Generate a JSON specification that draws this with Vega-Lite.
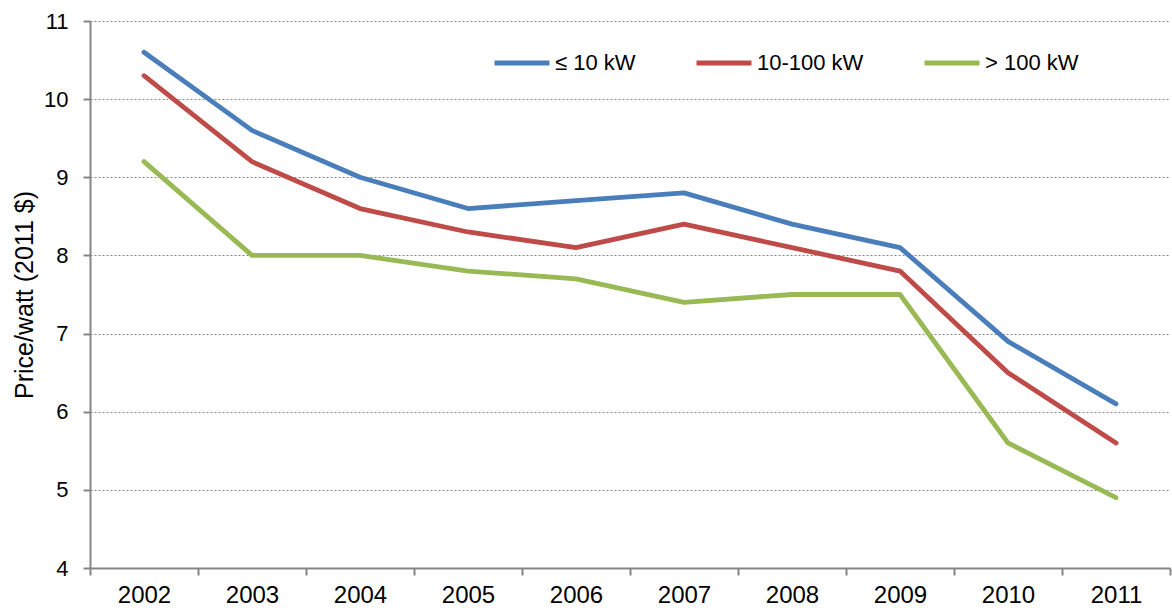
{
  "$schema": "https://vega.github.io/schema/vega-lite/v6.json",
  "autosize": {"type": "none"},
  "padding": {"left": 90, "top": 21, "right": 2, "bottom": 40},
  "width": 1080,
  "height": 547,
  "background": "white",
  "config": {
    "view": {"stroke": null},
    "font": "Liberation Sans"
  },
  "data": {
    "values": [
      {"year": "2002", "series": "≤ 10 kW", "price": 10.6},
      {"year": "2003", "series": "≤ 10 kW", "price": 9.6},
      {"year": "2004", "series": "≤ 10 kW", "price": 9.0},
      {"year": "2005", "series": "≤ 10 kW", "price": 8.6},
      {"year": "2006", "series": "≤ 10 kW", "price": 8.7},
      {"year": "2007", "series": "≤ 10 kW", "price": 8.8},
      {"year": "2008", "series": "≤ 10 kW", "price": 8.4},
      {"year": "2009", "series": "≤ 10 kW", "price": 8.1},
      {"year": "2010", "series": "≤ 10 kW", "price": 6.9},
      {"year": "2011", "series": "≤ 10 kW", "price": 6.1},
      {"year": "2002", "series": "10-100 kW", "price": 10.3},
      {"year": "2003", "series": "10-100 kW", "price": 9.2},
      {"year": "2004", "series": "10-100 kW", "price": 8.6},
      {"year": "2005", "series": "10-100 kW", "price": 8.3},
      {"year": "2006", "series": "10-100 kW", "price": 8.1},
      {"year": "2007", "series": "10-100 kW", "price": 8.4},
      {"year": "2008", "series": "10-100 kW", "price": 8.1},
      {"year": "2009", "series": "10-100 kW", "price": 7.8},
      {"year": "2010", "series": "10-100 kW", "price": 6.5},
      {"year": "2011", "series": "10-100 kW", "price": 5.6},
      {"year": "2002", "series": "> 100 kW", "price": 9.2},
      {"year": "2003", "series": "> 100 kW", "price": 8.0},
      {"year": "2004", "series": "> 100 kW", "price": 8.0},
      {"year": "2005", "series": "> 100 kW", "price": 7.8},
      {"year": "2006", "series": "> 100 kW", "price": 7.7},
      {"year": "2007", "series": "> 100 kW", "price": 7.4},
      {"year": "2008", "series": "> 100 kW", "price": 7.5},
      {"year": "2009", "series": "> 100 kW", "price": 7.5},
      {"year": "2010", "series": "> 100 kW", "price": 5.6},
      {"year": "2011", "series": "> 100 kW", "price": 4.9}
    ]
  },
  "mark": {"type": "line", "strokeWidth": 4.8, "strokeCap": "round", "strokeJoin": "round"},
  "encoding": {
    "x": {
      "field": "year",
      "type": "ordinal",
      "bandPosition": 0.5,
      "scale": {"type": "band", "paddingInner": 0, "paddingOuter": 0},
      "axis": {
        "title": null,
        "labelAngle": 0,
        "tickBand": "extent",
        "grid": false,
        "domainColor": "#868686",
        "domainWidth": 2,
        "tickColor": "#868686",
        "tickWidth": 2,
        "tickSize": 7,
        "labelFontSize": 24,
        "labelColor": "black",
        "labelPadding": 8,
        "labelFont": "Liberation Sans"
      }
    },
    "y": {
      "field": "price",
      "type": "quantitative",
      "scale": {"domain": [4, 11], "nice": false, "zero": false},
      "axis": {
        "title": "Price/watt (2011 $)",
        "titleFontSize": 25,
        "titleFontWeight": "normal",
        "titleColor": "black",
        "titleFont": "Liberation Sans",
        "titlePadding": 6,
        "values": [4, 5, 6, 7, 8, 9, 10, 11],
        "grid": true,
        "gridColor": "#868686",
        "gridDash": [2, 2],
        "gridWidth": 1,
        "domainColor": "#868686",
        "domainWidth": 2,
        "tickColor": "#868686",
        "tickWidth": 2,
        "tickSize": 7,
        "labelFontSize": 22,
        "labelColor": "black",
        "labelPadding": 15,
        "labelFont": "Liberation Sans"
      }
    },
    "color": {
      "field": "series",
      "type": "nominal",
      "scale": {
        "domain": ["≤ 10 kW", "10-100 kW", "> 100 kW"],
        "range": ["#4A7EBB", "#BE4B48", "#98B954"]
      },
      "legend": {
        "title": null,
        "orient": "none",
        "direction": "horizontal",
        "legendX": 402,
        "legendY": 12,
        "symbolType": "stroke",
        "symbolSize": 3025,
        "symbolStrokeWidth": 4.8,
        "labelFontSize": 22,
        "labelColor": "black",
        "labelFont": "Liberation Sans",
        "labelOffset": 3,
        "columnPadding": 50
      }
    }
  }
}
